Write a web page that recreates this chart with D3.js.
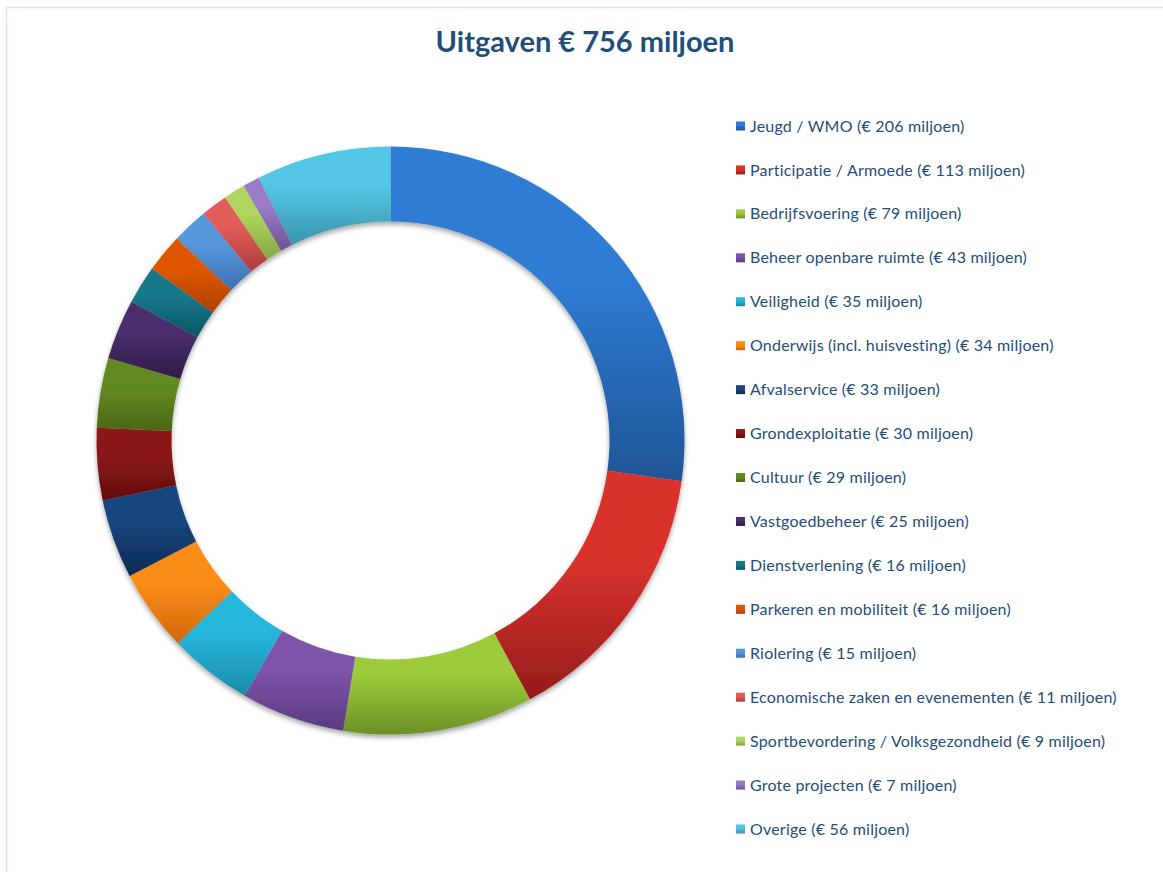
<!DOCTYPE html>
<html>
<head>
<meta charset="utf-8">
<script src="https://cdnjs.cloudflare.com/ajax/libs/d3/7.8.5/d3.min.js"></script>
<style>
  html, body { margin: 0; padding: 0; background: #ffffff; }
  svg { display: block; }
</style>
</head>
<body>
<svg id="chart" width="1163" height="872"></svg>
<script>
// ---- data ----
const title = "Uitgaven € 756 miljoen";
const categories = [
  "Jeugd / WMO",
  "Participatie / Armoede",
  "Bedrijfsvoering",
  "Beheer openbare ruimte",
  "Veiligheid",
  "Onderwijs (incl. huisvesting)",
  "Afvalservice",
  "Grondexploitatie",
  "Cultuur",
  "Vastgoedbeheer",
  "Dienstverlening",
  "Parkeren en mobiliteit",
  "Riolering",
  "Economische zaken en evenementen",
  "Sportbevordering / Volksgezondheid",
  "Grote projecten",
  "Overige"
];
const values = [206, 113, 79, 43, 35, 34, 33, 30, 29, 25, 16, 16, 15, 11, 9, 7, 56];
const colorsTop = ["#2f7bd4", "#d9322c", "#9ecb3b", "#7f53aa", "#28b7dd", "#fb8d17", "#18477f", "#8a1716",
                   "#648a22", "#4c2f6d", "#167889", "#df5705", "#5797dd", "#e05d5a", "#aed55f", "#9a7bc4", "#52c7e5"];
const colorsBottom = ["#1f5596", "#951c1c", "#6b9128", "#5a3a80", "#1a8aa9", "#d0680c", "#0c2a52", "#620d0d",
                      "#4a6617", "#2f1b47", "#0b5464", "#b04104", "#3d70b0", "#ad3a3a", "#86a744", "#6c5292", "#3b94ac"];

const svg = d3.select("#chart");
const defs = svg.append("defs");

// gradients
categories.forEach((c, i) => {
  const g = defs.append("linearGradient")
    .attr("id", "grad" + i)
    .attr("x1", 0).attr("y1", 0).attr("x2", 0).attr("y2", 1);
  g.append("stop").attr("offset", "0%").attr("stop-color", colorsTop[i]);
  g.append("stop").attr("offset", "40%").attr("stop-color", colorsTop[i]);
  g.append("stop").attr("offset", "100%").attr("stop-color", colorsBottom[i]);
});

// shadow
const f = defs.append("filter").attr("id", "shadow")
  .attr("x", "-10%").attr("y", "-10%").attr("width", "120%").attr("height", "120%");
f.append("feDropShadow").attr("dx", 0).attr("dy", 3).attr("stdDeviation", 2.5)
  .attr("flood-color", "#000").attr("flood-opacity", 0.35);

// outer border
svg.append("rect")
  .attr("x", 6.5).attr("y", 7.5).attr("width", 1170).attr("height", 880)
  .attr("fill", "none").attr("stroke", "#dce5f0").attr("stroke-width", 1.5);

// title
svg.append("text")
  .attr("x", 585).attr("y", 52)
  .attr("text-anchor", "middle")
  .attr("font-family", "Lato, 'Open Sans', sans-serif")
  .attr("font-weight", "bold")
  .attr("font-size", 29)
  .attr("fill", "#1f4e79")
  .text(title);

// donut
const cx = 390.5, cy = 440.5, rOuter = 294, rInner = 219;
const pie = d3.pie().sort(null).value(d => d);
const arc = d3.arc().innerRadius(rInner).outerRadius(rOuter);
const arcs = pie(values);

const g = svg.append("g")
  .attr("transform", `translate(${cx},${cy})`)
  .attr("filter", "url(#shadow)");
g.selectAll("path")
  .data(arcs)
  .join("path")
  .attr("d", arc)
  .attr("fill", (d, i) => `url(#grad${i})`);

// legend
const legendY = d3.scalePoint()
  .domain(d3.range(categories.length))
  .range([126, 829]);
const lg = svg.append("g");
const items = lg.selectAll("g")
  .data(categories)
  .join("g")
  .attr("transform", (d, i) => `translate(736,${legendY(i)})`);
items.append("rect")
  .attr("x", 0).attr("y", -4.5).attr("width", 9).attr("height", 9)
  .attr("fill", (d, i) => `url(#grad${i})`);
items.append("text")
  .attr("x", 14).attr("y", 0)
  .attr("dy", "0.35em")
  .attr("font-family", "Lato, 'Open Sans', sans-serif")
  .attr("font-size", 16)
  .attr("letter-spacing", "0.2px")
  .attr("fill", "#1f4e79")
  .text((d, i) => `${d} (€ ${values[i]} miljoen)`);
</script>
</body>
</html>
